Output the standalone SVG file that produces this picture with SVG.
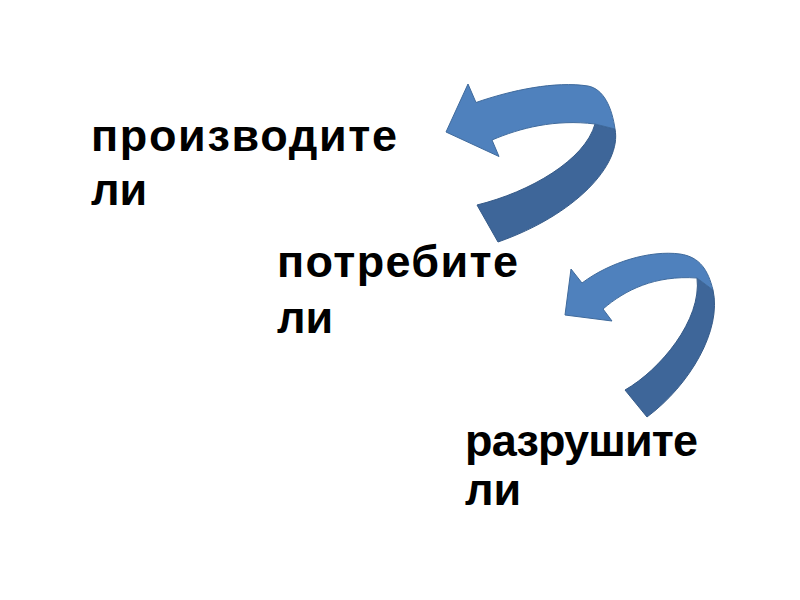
<svg xmlns="http://www.w3.org/2000/svg" width="800" height="600" viewBox="0 0 800 600">
<style>
.t{font-family:"Liberation Sans",Arial,sans-serif;font-weight:bold;font-size:45px;fill:#000}
.lt{fill:#4F81BD;stroke:#3F6A9C;stroke-width:1;stroke-linejoin:round}
.dk{fill:#3E6699;stroke:#355A88;stroke-width:1;stroke-linejoin:round}
</style>
<rect width="800" height="600" fill="#fff"/>
<g id="node-producers">
<text class="t" x="91" y="151" textLength="306" lengthAdjust="spacing">производите</text>
<text class="t" x="91" y="205">ли</text>
</g>
<g id="node-consumers">
<text class="t" x="277" y="277" textLength="241" lengthAdjust="spacing">потребите</text>
<text class="t" x="277" y="333">ли</text>
</g>
<g id="node-decomposers">
<text class="t" x="465" y="456" textLength="233" lengthAdjust="spacing">разрушите</text>
<text class="t" x="465" y="505">ли</text>
</g>
<g id="connectors">
<g id="arrow1">
<path class="dk" d="M 595,124 L 615,129 C 622,165 575,215 498,242 L 477,205 C 530,192 585,160 595,124 Z"/>
<path class="lt" d="M 476,102.5 L 468,84 L 446,132 L 499,156.5 L 492,140 C 520,128 555,119 595,124 L 615,129 C 612,108 604,89 588,86 C 555,81 512,90 476,102.5 Z"/>
</g>
<g id="arrow2">
<path class="dk" d="M 697,278 L 713,290 C 722,330 690,385 647,417 L 625,390 C 660,370 702,320 697,278 Z"/>
<path class="lt" d="M 582,283 L 571,269 L 565,315 L 612,321 L 603,309 C 625,290 655,275 697,278 L 713,290 C 708,270 700,257 680,254 C 650,250 610,262 582,283 Z"/>
</g>
</g>
</svg>
